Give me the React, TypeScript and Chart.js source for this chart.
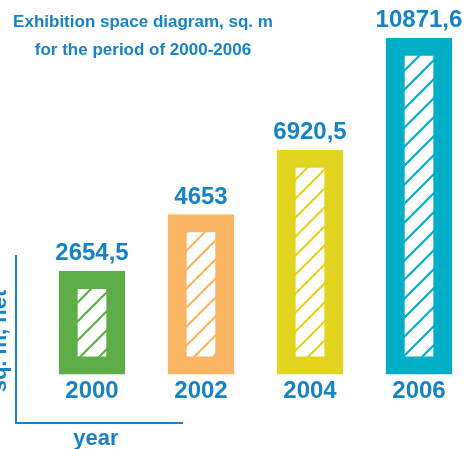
import React, { useEffect, useRef } from "react";
import { Chart, registerables } from "chart.js";

Chart.register(...registerables);

const years = ["2000", "2002", "2004", "2006"];
const areas = [2654.5, 4653, 6920.5, 10871.6];
const valueLabels = ["2654,5", "4653", "6920,5", "10871,6"];
const barColors = ["#5fad46", "#f9b562", "#e2d41f", "#00afc7"];
const titleLines = ["Exhibition space diagram, sq. m", "for the period of 2000-2006"];
const yTitle = "sq. m, net";
const xTitle = "year";

const TEXT = "#1683c4";
const FONT = "'Liberation Sans', Arial, sans-serif";
const AXIS_MIN = -975;
const AXIS_MAX = 11508;

function makePattern(color: string) {
  const s = 19;
  const c = document.createElement("canvas");
  c.width = s;
  c.height = s;
  const g = c.getContext("2d")!;
  g.fillStyle = "#ffffff";
  g.fillRect(0, 0, s, s);
  g.strokeStyle = color;
  g.lineWidth = 2.2;
  g.beginPath();
  g.moveTo(-2, s + 2);
  g.lineTo(s + 2, -2);
  g.moveTo(-2, 2);
  g.lineTo(2, -2);
  g.moveTo(s - 2, s + 2);
  g.lineTo(s + 2, s - 2);
  g.stroke();
  return g.createPattern(c, "repeat")!;
}

const deco = {
  id: "deco",
  afterDatasetsDraw(chart: any) {
    const ctx = chart.ctx as CanvasRenderingContext2D;
    const meta = chart.getDatasetMeta(0);
    ctx.save();
    ctx.fillStyle = TEXT;
    ctx.textAlign = "center";
    ctx.textBaseline = "alphabetic";
    ctx.font = `bold 24px ${FONT}`;
    meta.data.forEach((bar: any, i: number) => {
      ctx.fillText(valueLabels[i], bar.x, bar.y - 11);
    });
    ctx.font = `bold 17px ${FONT}`;
    ctx.fillText(titleLines[0], 143, 27);
    ctx.fillText(titleLines[1], 143, 55);
    ctx.strokeStyle = TEXT;
    ctx.lineWidth = 2;
    ctx.beginPath();
    ctx.moveTo(16, 255);
    ctx.lineTo(16, 423);
    ctx.lineTo(183, 423);
    ctx.stroke();
    ctx.font = `bold 22px ${FONT}`;
    ctx.fillText(xTitle, 96, 445);
    ctx.translate(6, 341);
    ctx.rotate(-Math.PI / 2);
    ctx.fillText(yTitle, 0, 0);
    ctx.restore();
  },
};

export default function App() {
  const ref = useRef<HTMLCanvasElement | null>(null);
  useEffect(() => {
    document.body.style.margin = "0";
    document.body.style.overflow = "hidden";
    const chart = new Chart(ref.current!, {
      type: "bar",
      data: {
        labels: years,
        datasets: [
          {
            data: areas,
            base: AXIS_MIN,
            backgroundColor: barColors.map(makePattern),
            borderColor: barColors,
            borderWidth: { top: 18, bottom: 18, left: 19, right: 19 },
            borderSkipped: false,
            barThickness: 66,
            clip: false as any,
          } as any,
        ],
      },
      options: {
        animation: false,
        responsive: true,
        maintainAspectRatio: false,
        layout: { padding: { left: 92, right: 47, top: 20, bottom: 40 } },
        plugins: { legend: { display: false }, tooltip: { enabled: false }, title: { display: false } },
        scales: {
          x: {
            type: "category",
            offset: false,
            grid: { display: false, drawTicks: false },
            border: { display: false },
            ticks: {
              color: TEXT,
              font: { family: FONT, size: 24, weight: "bold" },
              padding: 3,
              autoSkip: false,
              maxRotation: 0,
            },
          },
          y: { display: false, min: AXIS_MIN, max: AXIS_MAX },
        },
      },
      plugins: [deco],
    });
    return () => chart.destroy();
  }, []);
  return (
    <div style={{ position: "relative", width: 466, height: 449 }}>
      <canvas ref={ref} />
    </div>
  );
}
